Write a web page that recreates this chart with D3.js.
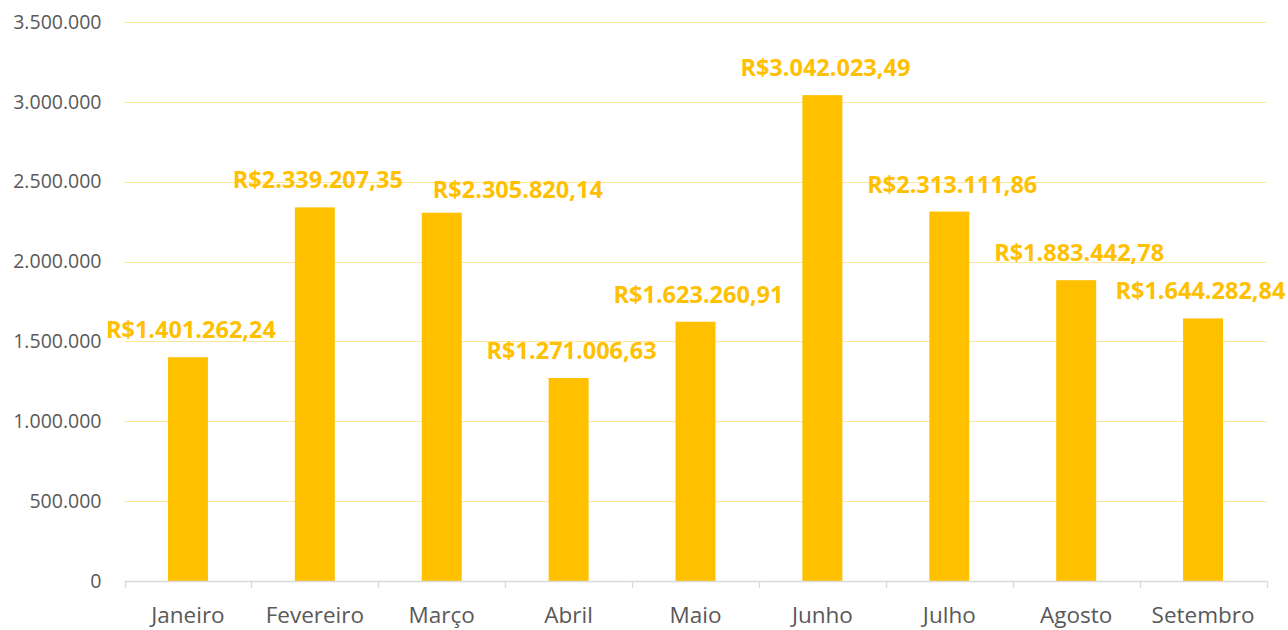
<!DOCTYPE html>
<html><head><meta charset="utf-8">
<script src="https://cdn.jsdelivr.net/npm/d3@7"></script>
<style>html,body{margin:0;padding:0;background:#fff;overflow:hidden}</style>
</head><body>
<svg id="c" width="1288" height="630"></svg>
<script>
const categories = ["Janeiro","Fevereiro","Março","Abril","Maio","Junho","Julho","Agosto","Setembro"];
const values = [1401262.24,2339207.35,2305820.14,1271006.63,1623260.91,3042023.49,2313111.86,1883442.78,1644282.84];
const yTicks = [0,500000,1000000,1500000,2000000,2500000,3000000,3500000];

(function(){
const svg = d3.select("#c");
const mLeft = 124.5, mRight = 1266.5, mTop = 22, mBottom = 581;
const x = d3.scaleBand().domain(categories).range([mLeft, mRight]).paddingInner(0.685).paddingOuter(0.3425);
const y = d3.scaleLinear().domain([0,3500000]).range([mBottom, mTop]);

const loc = d3.formatLocale({decimal:",",thousands:".",grouping:[3],currency:["R$",""]});
const tickFmt = loc.format(",.0f");
const labFmt = loc.format("$,.2f");

// gridlines
svg.append("g").selectAll("line").data(yTicks.filter(d=>d>0)).join("line")
  .attr("x1",mLeft).attr("x2",mRight)
  .attr("y1",d=>Math.round(y(d))+0.5).attr("y2",d=>Math.round(y(d))+0.5)
  .attr("stroke","#FFE699").attr("stroke-width",1.2);

// y axis labels
const yAxis = d3.axisLeft(y).tickValues(yTicks).tickFormat(tickFmt).tickSize(0).tickPadding(23);
const gy = svg.append("g").attr("transform",`translate(${mLeft},0)`).call(yAxis);
gy.select(".domain").remove();
gy.selectAll("text").attr("font-family","'Open Sans', sans-serif").attr("font-size","19.5px").attr("fill","#595959");

// bars
svg.append("g").selectAll("rect").data(values).join("rect")
  .attr("x",(d,i)=>x(categories[i]))
  .attr("width",x.bandwidth())
  .attr("y",d=>y(d))
  .attr("height",d=>mBottom-y(d))
  .attr("fill","#FFC000");

// x axis
const xb = d3.scaleBand().domain(categories).range([mLeft,mRight]);
const xAxis = d3.axisBottom(xb).tickSize(0);
const gx = svg.append("g").attr("transform",`translate(0,${mBottom})`).call(xAxis);
gx.select(".domain").attr("stroke","#D9D9D9").attr("stroke-width",1.3).attr("d",`M${mLeft},0.5H${mRight}`);
gx.selectAll(".tick text").attr("font-family","'Open Sans', sans-serif").attr("font-size","22.5px").attr("fill","#595959").attr("dy","0").attr("y",42);
const bounds = categories.map(c=>xb(c)).concat([mRight]);
gx.append("g").selectAll("line").data(bounds).join("line")
  .attr("x1",d=>Math.round(d)+0.5).attr("x2",d=>Math.round(d)+0.5)
  .attr("y1",0).attr("y2",7).attr("stroke","#D9D9D9").attr("stroke-width",1.3);

// data labels
const lbl = svg.append("g").selectAll("text").data(values).join("text")
  .attr("x",(d,i)=>x(categories[i])+x.bandwidth()/2+3)
  .attr("y",d=>y(d)-19)
  .attr("text-anchor","middle")
  .attr("font-family","'Open Sans', sans-serif").attr("font-weight","bold")
  .attr("font-size","23.5px").attr("fill","#FFC000")
  .text(d=>labFmt(d));
// simple collision avoidance (like the spreadsheet's label placement)
let prev = null;
lbl.each(function(){
  const sel = d3.select(this);
  let b = this.getBBox();
  if(prev && b.x < prev.x+prev.width+30 && Math.abs(b.y-prev.y) < b.height){
    sel.attr("x", +sel.attr("x") + (prev.x+prev.width+30-b.x));
    sel.attr("y", +sel.attr("y") + 4);
    b = this.getBBox();
  }
  if(b.x+b.width>1286){ sel.attr("x", +sel.attr("x")-(b.x+b.width-1286)); b=this.getBBox(); }
  prev = b;
});
})();
</script>
</body></html>
